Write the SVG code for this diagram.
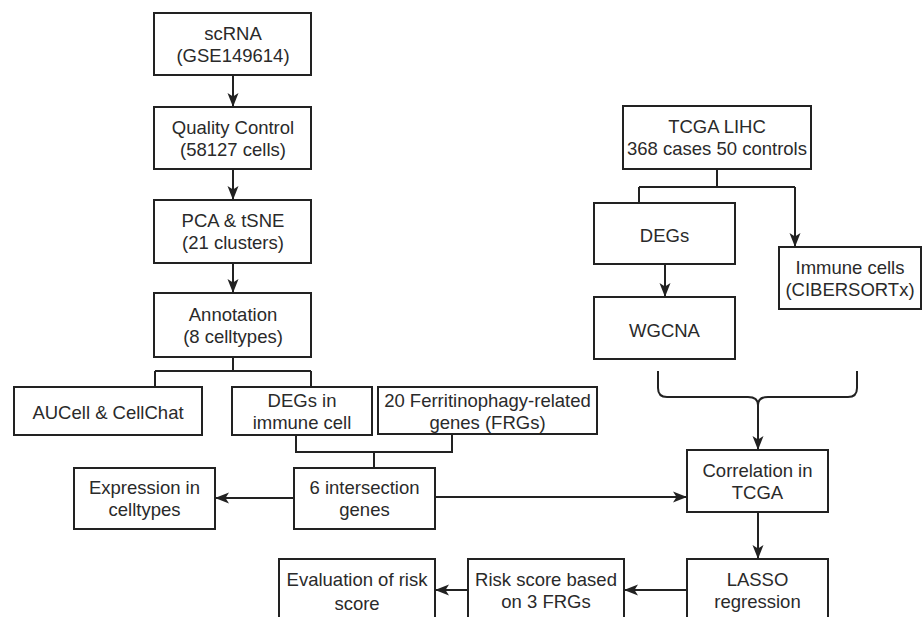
<svg xmlns="http://www.w3.org/2000/svg" width="922" height="617" viewBox="0 0 922 617">
<defs>
<style>
.box{fill:#fff;stroke:#222;stroke-width:2}
.t{font-family:"Liberation Sans",Arial,sans-serif;font-size:18.5px;fill:#2a2a2a;text-anchor:middle}
.c{fill:none;stroke:#222;stroke-width:2}
</style>
<marker id="ah" markerUnits="userSpaceOnUse" markerWidth="14" markerHeight="14" viewBox="0 0 14 14" refX="13" refY="7" orient="auto">
<path d="M0,1.5 L14,7 L0,12.5 L3.5,7 z" fill="#222"/>
</marker>
</defs>
<rect width="922" height="617" fill="#fff"/>
<g id="connectors">
<path class="c" d="M233,75 V106" marker-end="url(#ah)"/>
<path class="c" d="M233,169 V199" marker-end="url(#ah)"/>
<path class="c" d="M233,263 V292" marker-end="url(#ah)"/>
<path class="c" d="M233,357 V371 M155,371 H311 M155,371 V387 M311,371 V387"/>
<path class="c" d="M296,435 V452 H452 V434 M374,452 V468"/>
<path class="c" d="M294,498 H216" marker-end="url(#ah)"/>
<path class="c" d="M435,497 H686" marker-end="url(#ah)"/>
<path class="c" d="M717,169 V187 M639,187 H795 M639,187 V203"/>
<path class="c" d="M795,187 V246" marker-end="url(#ah)"/>
<path class="c" d="M665,264 V296" marker-end="url(#ah)"/>
<path class="c" d="M658,371 V388 Q658,397 667,397 H748 Q758,397 758,405 Q758,397 768,397 H848 Q857,397 857,388 V371"/>
<path class="c" d="M758,405 V449" marker-end="url(#ah)"/>
<path class="c" d="M758,512 V558" marker-end="url(#ah)"/>
<path class="c" d="M687,590 H625" marker-end="url(#ah)"/>
<path class="c" d="M468,590 H436" marker-end="url(#ah)"/>
</g>
<g id="n_scrna"><rect class="box" x="154" y="13" width="157" height="62"/><text class="t" x="233" y="39.5">scRNA</text><text class="t" x="233" y="61.5">(GSE149614)</text></g>
<g id="n_qc"><rect class="box" x="154" y="107" width="157" height="62"/><text class="t" x="233" y="133.5">Quality Control</text><text class="t" x="233" y="155.5">(58127 cells)</text></g>
<g id="n_pca"><rect class="box" x="154" y="200" width="157" height="63"/><text class="t" x="233" y="227">PCA &amp; tSNE</text><text class="t" x="233" y="249">(21 clusters)</text></g>
<g id="n_annot"><rect class="box" x="154" y="293" width="157" height="64"/><text class="t" x="233" y="320.5">Annotation</text><text class="t" x="233" y="342.5">(8 celltypes)</text></g>
<g id="n_aucell"><rect class="box" x="14" y="387" width="188" height="48"/><text class="t" x="108" y="418.5">AUCell &amp; CellChat</text></g>
<g id="n_degs_immune"><rect class="box" x="232" y="387" width="140" height="48"/><text class="t" x="302" y="407">DEGs in</text><text class="t" x="302" y="429">immune cell</text></g>
<g id="n_frgs"><rect class="box" x="378" y="387" width="219" height="47"/><text class="t" x="487.5" y="407">20 Ferritinophagy-related</text><text class="t" x="487.5" y="429">genes (FRGs)</text></g>
<g id="n_inter"><rect class="box" x="294" y="468" width="141" height="61"/><text class="t" x="364.5" y="493.5">6 intersection</text><text class="t" x="364.5" y="515.5">genes</text></g>
<g id="n_expr"><rect class="box" x="74" y="468" width="141" height="61"/><text class="t" x="144.5" y="493.5">Expression in</text><text class="t" x="144.5" y="515.5">celltypes</text></g>
<g id="n_tcga"><rect class="box" x="623" y="106" width="188" height="63"/><text class="t" x="717" y="133">TCGA LIHC</text><text class="t" x="717" y="155">368 cases 50 controls</text></g>
<g id="n_degs"><rect class="box" x="594" y="203" width="141" height="61"/><text class="t" x="664.5" y="242">DEGs</text></g>
<g id="n_immune"><rect class="box" x="779" y="247" width="142" height="62"/><text class="t" x="850" y="273.5">Immune cells</text><text class="t" x="850" y="295.5">(CIBERSORTx)</text></g>
<g id="n_wgcna"><rect class="box" x="594" y="297" width="141" height="62"/><text class="t" x="664.5" y="337">WGCNA</text></g>
<g id="n_corr"><rect class="box" x="687" y="450" width="141" height="62"/><text class="t" x="757.5" y="476.5">Correlation in</text><text class="t" x="757.5" y="498.5">TCGA</text></g>
<g id="n_lasso"><rect class="box" x="687" y="559" width="141" height="64"/><text class="t" x="757.5" y="585.5">LASSO</text><text class="t" x="757.5" y="607.5">regression</text></g>
<g id="n_risk"><rect class="box" x="468" y="559" width="156" height="64"/><text class="t" x="546" y="585.5">Risk score based</text><text class="t" x="546" y="607.5">on 3 FRGs</text></g>
<g id="n_eval"><rect class="box" x="279" y="559" width="156" height="64"/><text class="t" x="357" y="585.5">Evaluation of risk</text><text class="t" x="357" y="609.5">score</text></g>
</svg>
